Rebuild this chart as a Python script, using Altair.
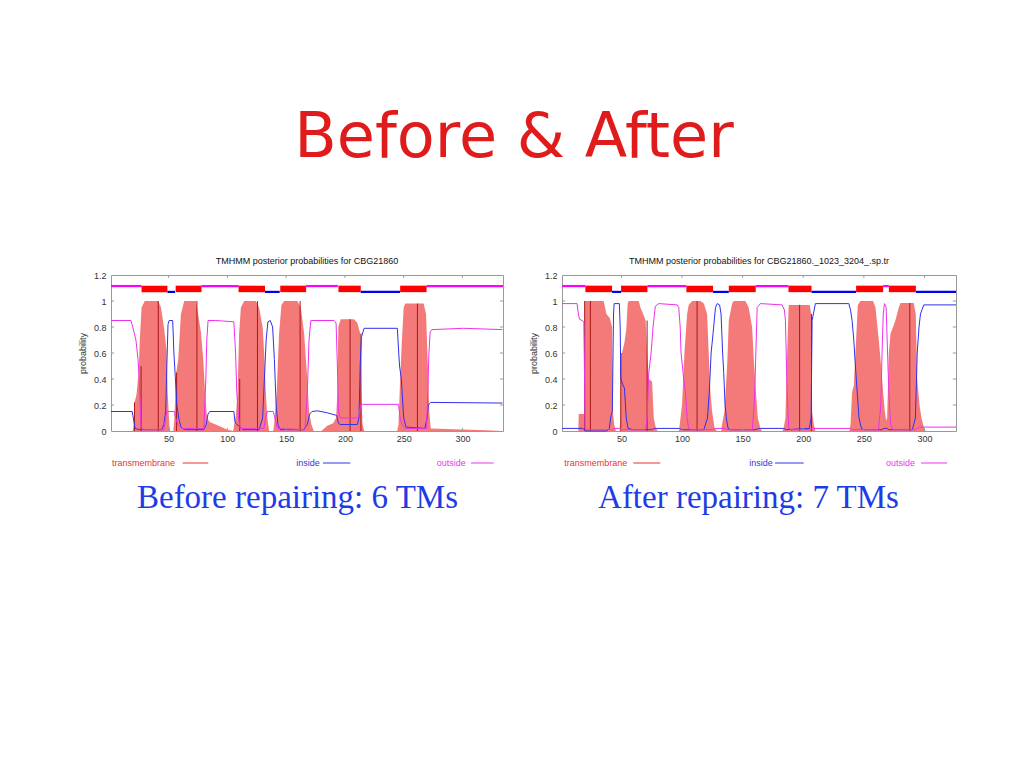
import altair as alt
import pandas as pd

# ---------------- data ----------------
HEADER = "Before & After"
TITLE_L = "TMHMM posterior probabilities for CBG21860"
TITLE_R = "TMHMM posterior probabilities for CBG21860._1023_3204_.sp.tr"
CAPTION_L = "Before repairing: 6 TMs"
CAPTION_R = "After repairing: 7 TMs"
X_TICKS = [50, 100, 150, 200, 250, 300]
Y_TICKS = [0, 0.2, 0.4, 0.6, 0.8, 1.0, 1.2]

# ---- left panel (before) ----
L_LEN = 334.5
L_tm_x = [1, 19.5, 20.2, 21, 22.7, 24.5, 25.5, 27, 29.7, 41.2, 43.5, 46.3, 48.3, 49.2, 50.6, 51.5,
          54, 54.8, 56.5, 58.2, 60.5, 63.3, 73.2, 74.6, 77.5, 79.5, 81, 82.7, 85, 90, 95, 100,
          105, 105.8, 107.3, 108.7, 110, 111.5, 114.3, 124.2, 127, 130, 131.3, 132.7, 134, 135.5,
          139, 139.8, 142, 144, 146, 148.3, 159.6, 162.5, 165.3, 167.6, 169.5, 171.5, 173.5,
          180, 185, 190, 192.5, 193.6, 194.4, 196.4, 207.8, 210.6, 213, 214, 215, 216.5,
          244.5, 245.6, 247, 248.5, 250, 251.4, 267, 269, 270.4, 271.8, 273, 320, 334]
L_tm_p = [0, 0, 0.05, 0.22, 0.28, 0.45, 0.7, 0.95, 1.0, 1.0, 0.95, 0.78, 0.62, 0.3, 0.05, 0,
          0, 0.08, 0.45, 0.55, 0.9, 1.0, 1.0, 0.93, 0.76, 0.55, 0.3, 0.1, 0.07, 0.05, 0.03, 0.01,
          0, 0.05, 0.12, 0.3, 0.75, 0.95, 1.0, 1.0, 0.95, 0.8, 0.6, 0.3, 0.1, 0,
          0, 0.05, 0.3, 0.75, 0.97, 1.0, 1.0, 0.95, 0.75, 0.45, 0.15, 0.05, 0,
          0, 0.04, 0.06, 0.1, 0.3, 0.8, 0.86, 0.86, 0.83, 0.75, 0.3, 0.05, 0,
          0, 0.05, 0.4, 0.7, 0.95, 0.98, 0.98, 0.9, 0.55, 0.15, 0.02, 0.005, 0]
L_in_x = [1, 19, 20, 21.5, 25, 44, 46, 47.5, 48.5, 49.5, 50.5, 53.5, 54.5, 55.5, 57, 59, 61, 65, 80,
          82, 83.5, 85, 105.5, 106.5, 108, 110, 113, 127, 130, 131.5, 133, 134.5, 136.5, 138.5, 140,
          141.5, 143, 145, 165, 168, 170, 172, 176.6, 185, 193, 194.5, 196, 210.6, 212, 213, 214,
          216.3, 244.6, 245.8, 246.5, 248, 250, 252, 268, 270, 271, 273, 334]
L_in_p = [0.15, 0.15, 0.1, 0.02, 0.01, 0.01, 0.05, 0.15, 0.5, 0.82, 0.85, 0.85, 0.6, 0.45, 0.2, 0.08,
          0.02, 0.01, 0.01, 0.05, 0.13, 0.15, 0.15, 0.07, 0.05, 0.04, 0.01, 0.01, 0.1, 0.4, 0.7, 0.84,
          0.85, 0.8, 0.55, 0.2, 0.05, 0.01, 0.01, 0.05, 0.13, 0.15, 0.155, 0.14, 0.12, 0.06, 0.05,
          0.05, 0.1, 0.5, 0.72, 0.79, 0.79, 0.6, 0.5, 0.4, 0.1, 0.03, 0.02, 0.1, 0.2, 0.22, 0.215]
L_out_x = [1, 18, 19.5, 22.2, 24, 25, 26.4, 28, 46, 47.5, 48.5, 55, 56, 58, 61, 80, 81.7, 82.5, 83.6,
           90, 105.5, 107, 108, 109.5, 111, 131, 132.5, 134, 139, 140.5, 142.5, 166, 168, 169.5, 171,
           190.8, 192.5, 193.6, 194.5, 196, 210.6, 212, 213.5, 215, 245.6, 247, 248.5, 251, 269.5,
           270.5, 271.5, 272.5, 274, 301, 334]
L_out_p = [0.85, 0.85, 0.8, 0.7, 0.55, 0.4, 0.05, 0.01, 0.01, 0.1, 0.15, 0.15, 0.1, 0.05, 0.02, 0.02,
           0.4, 0.7, 0.85, 0.85, 0.84, 0.6, 0.3, 0.1, 0.02, 0.02, 0.1, 0.15, 0.15, 0.1, 0.02, 0.01,
           0.3, 0.7, 0.85, 0.85, 0.83, 0.5, 0.15, 0.1, 0.1, 0.12, 0.2, 0.205, 0.205, 0.1, 0.05, 0.02,
           0.02, 0.3, 0.6, 0.76, 0.78, 0.79, 0.78]
L_dark_x = [21, 26.6, 41.2, 56.8, 74.1, 110.5, 125.6, 161.9, 204.4, 213.6, 261.7]
L_dark_p = [0.22, 0.5, 1.0, 0.45, 1.0, 0.4, 1.0, 1.0, 0.86, 0.75, 0.98]
L_topo_start = [1, 27, 49, 56, 78, 109.5, 132, 145, 167, 194.5, 213.5, 247, 269.5]
L_topo_end = [27, 49, 55.5, 78, 109.5, 132, 144.5, 167, 194, 213.5, 247, 269.5, 334.5]
L_topo_type = ["outside", "TM", "inside", "TM", "outside", "TM", "inside", "TM", "outside", "TM",
               "inside", "TM", "outside"]

# ---- right panel (after) ----
R_LEN = 326
R_tm_x = [1, 14.5, 14.8, 19, 19.5, 19.8, 35.4, 37.6, 40.4, 42.3, 43, 44, 45.5,
          48.5, 49.2, 49.5, 50.5, 52.5, 54, 55.2, 56, 64.3, 65.7, 67.9, 70, 71.2, 72.6, 75.3, 76.7, 78.5, 80,
          97.5, 98.1, 100, 102, 104.2, 105.5, 108.3, 115.2, 118, 120.7, 122, 123.4, 124.8, 126.7, 128.5,
          132.3, 133, 135, 137.2, 138.6, 141.3, 142.7, 152.3, 155, 157.8, 159.2, 160.6, 162.5, 164.7, 166,
          183, 184, 185.3, 186.7, 188, 205.4, 206.5, 207.3, 208.7, 210,
          238, 239, 240.3, 241.7, 243.6, 245, 247.2, 257.6, 259.6, 262.3, 264.2, 265.9, 267.3, 268.4,
          269.2, 270.6, 272, 274.1, 276, 278.8, 280.2, 291.2, 292.8, 294, 295.9, 297.5, 299.4, 301, 326]
R_tm_p = [0, 0, 0.13, 0.13, 0.15, 1.0, 1.0, 0.9, 0.87, 0.8, 0.15, 0.05, 0,
          0, 0.1, 0.6, 0.6, 0.68, 0.78, 0.98, 1.0, 1.0, 0.95, 0.9, 0.85, 0.6, 0.4, 0.38, 0.1, 0.02, 0,
          0, 0.05, 0.2, 0.6, 0.9, 0.97, 1.0, 1.0, 0.98, 0.9, 0.6, 0.3, 0.15, 0.03, 0,
          0, 0.05, 0.15, 0.5, 0.85, 0.98, 1.0, 1.0, 0.95, 0.8, 0.55, 0.35, 0.1, 0.02, 0,
          0, 0.03, 0.1, 0.6, 0.97, 0.97, 0.9, 0.15, 0.05, 0,
          0, 0.05, 0.3, 0.35, 0.7, 0.97, 1.0, 1.0, 0.95, 0.7, 0.5, 0.3, 0.15, 0.08,
          0.1, 0.6, 0.75, 0.8, 0.85, 0.95, 0.985, 0.985, 0.9, 0.4, 0.2, 0.1, 0.03, 0, 0]
R_in_x = [1, 18, 19.5, 20, 38, 40, 41.5, 42.5, 43.5, 44, 48.3, 49, 49.5, 51, 52.5, 54, 55.5, 60, 75, 77,
          98, 100, 118, 121, 122.5, 124, 125.6, 127.6, 129, 131, 132.2, 133.5, 134.4, 135.5, 136.6, 138,
          140, 160, 164, 184, 186, 205, 206.5, 207.3, 210, 237.6, 239, 240.3, 241.7, 243, 244.5, 246,
          248, 250, 265, 266.5, 269, 270.6, 290, 292.5, 294, 295.5, 296.7, 299.4, 326]
R_in_p = [0.02, 0.02, 0.01, 0.0, 0.0, 0.02, 0.12, 0.15, 0.9, 0.98, 0.98, 0.8, 0.4, 0.36, 0.33, 0.1,
          0.02, 0.01, 0.01, 0.02, 0.02, 0.01, 0.01, 0.1, 0.3, 0.6, 0.75, 0.95, 0.98, 0.97, 0.9, 0.6,
          0.45, 0.2, 0.1, 0.02, 0.01, 0.01, 0.02, 0.02, 0.01, 0.02, 0.1, 0.85, 0.98, 0.98, 0.93, 0.85,
          0.7, 0.5, 0.3, 0.1, 0.02, 0.01, 0.01, 0.02, 0.02, 0.01, 0.01, 0.1, 0.6, 0.8, 0.9, 0.97, 0.97]
R_out_x = [1, 13.4, 14.5, 15.5, 17.5, 19, 19.6, 20, 22, 42, 44, 48, 50, 70, 71.2, 72.6, 74.5, 76.1, 78,
           80.8, 96, 97.3, 98.5, 99.2, 101.4, 102.8, 104.2, 105.5, 107, 125, 128, 135, 138, 158, 159.5,
           160.3, 161.2, 162, 164.7, 182.6, 184.5, 185.3, 186.7, 188, 190, 205, 207.6, 239, 240.5, 262,
           264, 265, 266, 267, 268.4, 269.2, 270.6, 272, 274, 292, 294, 296, 326]
R_out_p = [0.98, 0.98, 0.9, 0.86, 0.85, 0.84, 0.4, 0.02, 0.01, 0.01, 0.02, 0.02, 0.01, 0.01, 0.1, 0.45,
           0.6, 0.8, 0.96, 0.98, 0.97, 0.95, 0.8, 0.6, 0.4, 0.3, 0.1, 0.02, 0.01, 0.01, 0.02, 0.02, 0.01,
           0.01, 0.2, 0.4, 0.7, 0.95, 0.98, 0.97, 0.93, 0.85, 0.3, 0.02, 0.01, 0.01, 0.02, 0.02, 0.01,
           0.01, 0.2, 0.6, 0.9, 0.98, 0.95, 0.7, 0.3, 0.05, 0.01, 0.01, 0.02, 0.03, 0.03]
R_dark_x = [19.7, 24.4, 49.5, 71.2, 112.4, 197, 206.8, 287.9]
R_dark_p = [1.0, 1.0, 0.6, 0.85, 1.0, 0.97, 0.9, 0.985]
R_topo_start = [1, 20.3, 42.3, 49.7, 71.5, 103.6, 125.6, 138.6, 160.8, 187.8, 206.8, 243.6, 265.9,
                270.6, 292.9]
R_topo_end = [20.3, 42.3, 49.7, 71.5, 103.6, 125.6, 138.6, 160.8, 187.8, 206.8, 243.6, 265.9, 270.6,
              292.9, 326]
R_topo_type = ["outside", "TM", "inside", "TM", "outside", "TM", "inside", "TM", "outside", "TM",
               "inside", "TM", "outside", "TM", "inside"]

TOPO_Y = {"outside": 1.115, "inside": 1.07}

# ---------------- styling ----------------
FONT = "Liberation Sans"
RED_FILL = "#f47a7a"
DARK = "#a81818"
BLUE = "#3030ee"
MAGENTA = "#ee30ee"
GRID = "#999999"
PLOT_H = 156


def panel(length, width, title, caption, tm_x, tm_p, in_x, in_p, out_x, out_p,
          dark_x, dark_p, t_start, t_end, t_type, leg, anchor=False, header=False):
    xs = alt.Scale(domain=[1, length], nice=False, zero=False)
    ys = alt.Scale(domain=[0, 1.2], nice=False)
    xax = alt.Axis(values=X_TICKS, title=None, ticks=False, domain=False, grid=False,
                   labelPadding=3, labelFont=FONT, labelFontSize=9, labelColor="#333")
    yax = alt.Axis(values=Y_TICKS, title="probability", format="~g", ticks=False, domain=False,
                   grid=False, labelPadding=5, labelFont=FONT, labelFontSize=9, labelColor="#333",
                   titleFont=FONT, titleFontSize=9, titleFontWeight="normal", titleColor="#333",
                   titlePadding=6)

    def X(f):
        return alt.X(f, type="quantitative", scale=xs, axis=xax)

    def Y(f):
        return alt.Y(f, type="quantitative", scale=ys, axis=yax)

    tm = pd.DataFrame({"pos": tm_x, "p": tm_p})
    ins = pd.DataFrame({"pos": in_x, "p": in_p})
    out = pd.DataFrame({"pos": out_x, "p": out_p})
    dark = pd.DataFrame({"pos": dark_x, "p": dark_p, "p0": [0] * len(dark_x)})
    topo = pd.DataFrame({"pos": t_start, "end": t_end, "kind": t_type})
    topo["y"] = [TOPO_Y.get(k, 1.093) for k in t_type]
    lines_df = topo[topo.kind != "TM"]
    tm_df = topo[topo.kind == "TM"].copy()
    tm_df["y"] = 1.068
    tm_df["y2"] = 1.118

    # inward tick marks on all four borders
    tx = pd.DataFrame({"pos": X_TICKS * 2,
                       "p": [0] * 6 + [1.2] * 6,
                       "p2": [0.022] * 6 + [1.178] * 6})
    ty_vals = Y_TICKS[1:-1]
    ty = pd.DataFrame({"pos": [1] * len(ty_vals) + [length] * len(ty_vals),
                       "end": [1 + 2.6] * len(ty_vals) + [length - 2.6] * len(ty_vals),
                       "p": ty_vals * 2})

    area = alt.Chart(tm).mark_area(color=RED_FILL, interpolate="linear").encode(x=X("pos"), y=Y("p"))
    darkr = alt.Chart(dark).mark_rule(color=DARK, strokeWidth=1).encode(
        x=X("pos"), y=Y("p"), y2="p0")
    in_line = alt.Chart(ins).mark_line(color=BLUE, strokeWidth=1).encode(x=X("pos"), y=Y("p"))
    out_line = alt.Chart(out).mark_line(color=MAGENTA, strokeWidth=1).encode(x=X("pos"), y=Y("p"))
    topo_lines = alt.Chart(lines_df).mark_rule(strokeWidth=2.2).encode(
        x=X("pos"), x2="end", y=Y("y"),
        color=alt.Color("kind:N", scale=alt.Scale(domain=["inside", "outside"],
                                                  range=["#0000ee", "#ff00ff"]), legend=None))
    topo_tm = alt.Chart(tm_df).mark_rect(color="#ff0000").encode(
        x=X("pos"), x2="end", y=Y("y"), y2="y2")
    tick_x = alt.Chart(tx).mark_rule(color=GRID, strokeWidth=1).encode(x=X("pos"), y=Y("p"), y2="p2")
    tick_y = alt.Chart(ty).mark_rule(color=GRID, strokeWidth=1).encode(x=X("pos"), x2="end", y=Y("p"))

    layers = [area, darkr, in_line, out_line, topo_lines, topo_tm, tick_x, tick_y]

    # panel title as text above the plot area
    layers.append(alt.Chart(pd.DataFrame({"t": [title]})).mark_text(
        align="center", baseline="middle", font=FONT, fontSize=9, color="#111").encode(
        text="t:N", x=alt.value(width / 2), y=alt.value(-14)))

    # legend row (text + short line samples)
    one = pd.DataFrame({"a": [0]})
    for label, color, tx0, lx0, lx1 in leg:
        layers.append(alt.Chart(pd.DataFrame({"t": [label]})).mark_text(
            align="left", baseline="middle", font=FONT, fontSize=9, color=color).encode(
            text="t:N", x=alt.value(tx0), y=alt.value(188)))
        layers.append(alt.Chart(one).mark_rule(color=color, strokeWidth=1).encode(
            x=alt.value(lx0), x2=alt.value(lx1), y=alt.value(188)))

    # caption
    layers.append(alt.Chart(pd.DataFrame({"t": [caption]})).mark_text(
        align="center", baseline="alphabetic", font="Liberation Serif", fontSize=33,
        color="#1e3ce6").encode(text="t:N", x=alt.value(186.5), y=alt.value(233)))

    if header:
        hd = pd.DataFrame({"t": [HEADER]})
        layers.append(alt.Chart(hd).mark_text(
            align="center", baseline="alphabetic", font="DejaVu Sans", fontSize=62,
            color="#e01b1b").encode(text="t:N", x=alt.value(403), y=alt.value(-118)))
    if anchor:
        layers.append(alt.Chart(one).mark_rect(color="white").encode(
            x=alt.value(-102), x2=alt.value(-101), y=alt.value(-266), y2=alt.value(-265)))

    return alt.layer(*layers).properties(width=width, height=PLOT_H)


LEG_L = [("transmembrane", "#ee3030", 1, 71.7, 97.3),
         ("inside", "#3333ee", 185.3, 212, 239.3),
         ("outside", "#ee33ee", 325.7, 360, 382.7)]
LEG_R = [("transmembrane", "#ee3030", 2.3, 71.3, 98.3),
         ("inside", "#3333ee", 187.3, 213, 241.7),
         ("outside", "#ee33ee", 324, 359, 385)]

left = panel(L_LEN, 392, TITLE_L, CAPTION_L, L_tm_x, L_tm_p, L_in_x, L_in_p, L_out_x, L_out_p,
             L_dark_x, L_dark_p, L_topo_start, L_topo_end, L_topo_type, LEG_L,
             anchor=True, header=True)
right = panel(R_LEN, 394, TITLE_R, CAPTION_R, R_tm_x, R_tm_p, R_in_x, R_in_p, R_out_x, R_out_p,
              R_dark_x, R_dark_p, R_topo_start, R_topo_end, R_topo_type, LEG_R)

chart = alt.hconcat(left, right, spacing=59, bounds="flush").properties(
    padding=0, background="white"
).configure_view(stroke="#999999", strokeWidth=1)

chart.save("out.html", embed_options={"renderer": "svg", "actions": False})
